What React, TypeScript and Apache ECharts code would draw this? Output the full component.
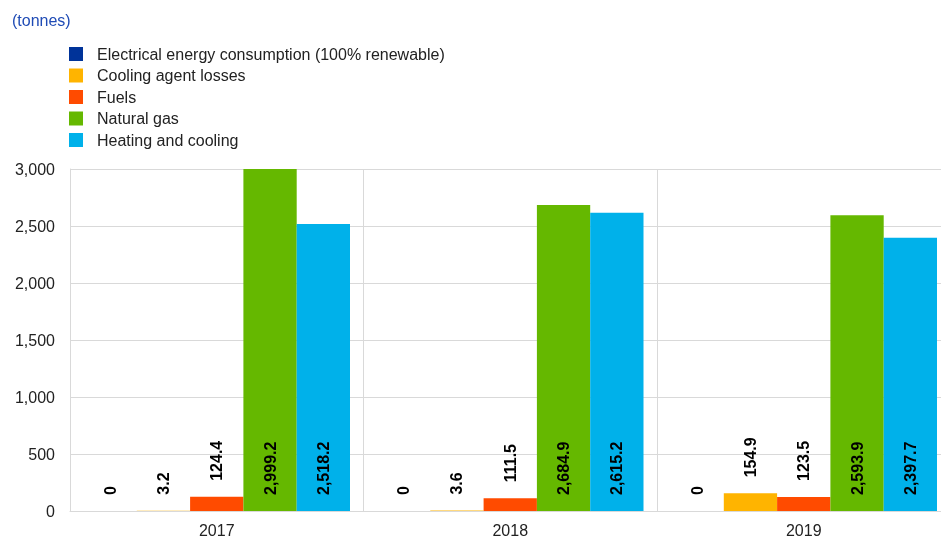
import React, { useEffect, useRef } from "react";
import * as echarts from "echarts";

const categories = ["2017", "2018", "2019"];
const seriesNames = [
  "Electrical energy consumption (100% renewable)",
  "Cooling agent losses",
  "Fuels",
  "Natural gas",
  "Heating and cooling",
];
const electrical = [0, 0, 0];
const coolingAgent = [3.2, 3.6, 154.9];
const fuels = [124.4, 111.5, 123.5];
const naturalGas = [2999.2, 2684.9, 2593.9];
const heatingCooling = [2518.2, 2615.2, 2397.7];
const colors = ["#003399", "#FFB400", "#FF4B00", "#65B800", "#00B1EA"];
const yTicks = { min: 0, max: 3000, interval: 500 };

const FONT = "Liberation Sans, Arial, sans-serif";

const fmtLabel = (v: number) =>
  v === 0
    ? "0"
    : v.toLocaleString("en-US", { minimumFractionDigits: 1, maximumFractionDigits: 1 });

export default function App() {
  const ref = useRef<HTMLDivElement>(null);
  useEffect(() => {
    if (!ref.current) return;
    const chart = echarts.init(ref.current, null, { renderer: "svg" });
    const data = [electrical, coolingAgent, fuels, naturalGas, heatingCooling];
    const inside = [false, false, false, true, true];
    chart.setOption({
      animation: false,
      color: colors,
      title: {
        text: "(tonnes)",
        left: 7,
        top: 7,
        textStyle: { color: "#1F4BB5", fontSize: 16, fontWeight: "normal", fontFamily: FONT },
      },
      legend: {
        orient: "vertical",
        left: 64,
        top: 41,
        icon: "rect",
        itemWidth: 14,
        itemHeight: 14,
        itemGap: 5.5,
        data: seriesNames,
        textStyle: { color: "#222", fontSize: 16, fontFamily: FONT, padding: [0, 0, 0, 9] },
      },
      grid: { left: 70, width: 880.5, top: 169, bottom: 25, containLabel: false },
      xAxis: {
        type: "category",
        data: categories,
        axisLine: { show: true, lineStyle: { color: "#d9d9d9" } },
        axisTick: { show: false },
        splitLine: { show: true, lineStyle: { color: "#d9d9d9" } },
        axisLabel: { color: "#222", fontSize: 16, fontFamily: FONT, margin: 11 },
      },
      yAxis: {
        type: "value",
        min: yTicks.min,
        max: yTicks.max,
        interval: yTicks.interval,
        axisLine: { show: true, lineStyle: { color: "#d9d9d9" } },
        axisTick: { show: false },
        splitLine: { show: true, lineStyle: { color: "#d9d9d9" } },
        axisLabel: {
          color: "#222",
          fontSize: 16,
          fontFamily: FONT,
          margin: 15,
          formatter: (v: number) => v.toLocaleString("en-US"),
        },
      },
      series: seriesNames.map((name, i) => ({
        name,
        type: "bar",
        data: data[i],
        barWidth: 53.3,
        barGap: "0%",
        itemStyle: { color: colors[i] },
        label: {
          show: true,
          position: inside[i] ? "insideBottom" : "top",
          distance: 16,
          rotate: 90,
          align: "left",
          verticalAlign: "middle",
          color: "#000",
          fontSize: 16,
          fontWeight: "bold",
          fontFamily: FONT,
          formatter: (p: any) => fmtLabel(p.value),
        },
      })),
    });
    return () => chart.dispose();
  }, []);
  return (
    <div style={{ position: "fixed", left: 0, top: 0, width: 941, height: 538, overflow: "hidden" }}>
      <div ref={ref} style={{ width: 960, height: 538 }} />
    </div>
  );
}
